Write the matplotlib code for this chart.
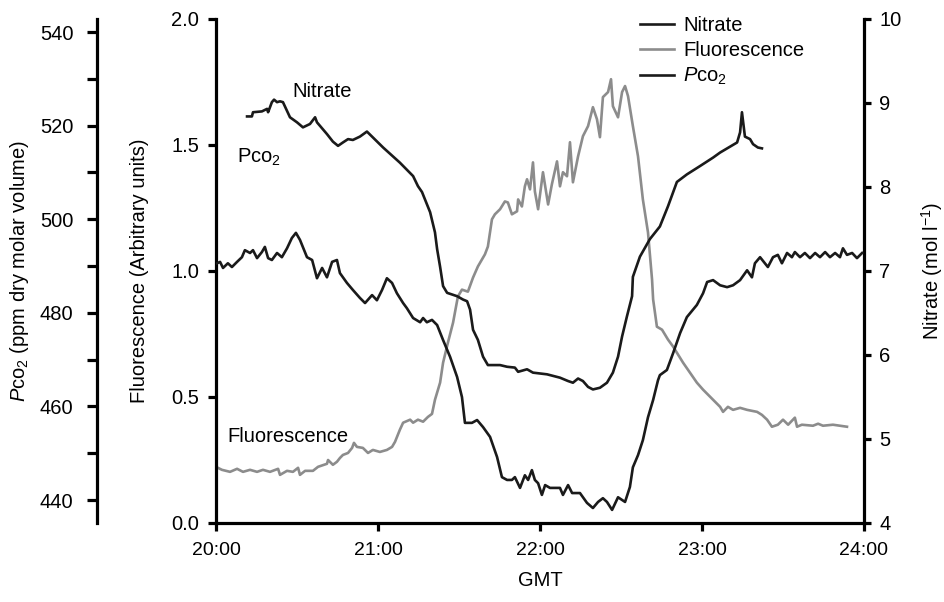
import matplotlib
matplotlib.use('Agg')
import matplotlib.pyplot as plt
import numpy as np

plt.rcParams['font.family'] = ['Liberation Sans', 'DejaVu Sans']
plt.rcParams['mathtext.fontset'] = 'custom'
plt.rcParams['mathtext.rm'] = 'Liberation Sans'
plt.rcParams['mathtext.it'] = 'Liberation Sans:italic'

# minutes after 20:00 GMT
nitrate_min = [11.5, 13.3, 13.7, 17.0, 18.9, 19.3, 20.7, 21.5, 22.6, 23.7, 24.8, 27.4, 30.0,
               32.2, 34.8, 36.7, 37.4, 41.1, 43.3, 45.2, 47.0, 48.9, 50.7, 53.3, 55.9, 61.9,
               68.1, 73.0, 74.8, 76.3, 79.3, 81.1, 81.9, 83.0, 84.1, 85.6, 89.3, 91.5, 93.0,
               94.1, 95.2, 97.0, 98.9, 100.7, 105.2, 107.8, 110.7, 111.9, 115.2, 117.4, 122.6,
               127.4, 130.4, 132.2, 134.1, 135.9, 137.8, 139.6, 142.2, 144.8, 147.0, 148.9,
               150.4, 152.2, 154.1, 154.4, 157.0, 160.7, 164.4, 167.4, 170.7, 174.4, 179.3,
               184.1, 186.7, 193.0, 194.1, 194.8, 195.9, 197.8, 198.9, 200.7, 202.2]
nitrate_val = [8.84, 8.84, 8.89, 8.90, 8.93, 8.89, 9.01, 9.04, 9.01, 9.02, 9.01, 8.83, 8.77,
               8.71, 8.75, 8.83, 8.77, 8.63, 8.54, 8.49, 8.53, 8.57, 8.56, 8.60, 8.66, 8.47,
               8.29, 8.13, 8.01, 7.94, 7.70, 7.46, 7.26, 7.05, 6.82, 6.74, 6.70, 6.66, 6.64,
               6.54, 6.30, 6.18, 5.98, 5.88, 5.88, 5.86, 5.85, 5.80, 5.83, 5.79, 5.77,
               5.73, 5.69, 5.67, 5.72, 5.69, 5.62, 5.59, 5.61, 5.67, 5.79, 5.98,
               6.22, 6.46, 6.70, 6.93, 7.17, 7.38, 7.53, 7.77, 8.06, 8.15, 8.25,
               8.35, 8.41, 8.53, 8.65, 8.89, 8.60, 8.57, 8.51, 8.47, 8.46]

fluor_min = [0.7, 2.2, 5.2, 7.8, 10.0, 12.6, 15.2, 17.4, 20.0, 23.0, 23.7, 26.3, 28.5, 30.4,
             31.1, 33.0, 35.9, 37.8, 41.1, 41.5, 43.3, 44.8, 45.9, 47.0, 48.9, 50.4, 51.1,
             52.2, 54.4, 56.3, 58.1, 60.7, 63.3, 65.2, 66.3, 68.1, 69.3, 71.9, 73.0, 74.8,
             76.7, 78.5, 80.0, 81.1, 83.0, 84.1, 85.9, 87.8, 89.6, 91.1, 93.3, 95.2, 97.0,
             99.6, 100.7, 102.2, 103.3, 105.2, 107.0, 108.1, 109.6, 111.5, 111.9, 113.3,
             114.4, 115.2, 116.3, 117.4, 118.1, 119.3, 121.1, 123.0, 124.4, 126.3, 127.4,
             128.5, 130.0, 131.1, 132.2, 134.1, 135.9, 137.8, 139.6, 141.1, 142.2, 143.3,
             145.2, 146.3, 147.0, 148.9, 150.4, 151.5, 152.6, 154.4, 156.3, 158.1, 160.0,
             161.5, 161.9, 163.3, 165.2, 167.4, 169.3, 173.0, 175.6, 178.1, 180.4, 183.0,
             184.1, 186.7, 187.8, 189.6, 191.5, 194.1, 196.7, 200.4, 202.2, 204.1, 205.9,
             208.1, 210.0, 211.9, 214.4, 215.2, 217.0, 221.1, 223.0, 224.8, 228.5, 231.1,
             233.7]
fluor_val = [0.219, 0.211, 0.203, 0.215, 0.203, 0.211, 0.203, 0.211, 0.203, 0.215, 0.191,
             0.207, 0.203, 0.219, 0.191, 0.207, 0.207, 0.223, 0.235, 0.250, 0.231, 0.243,
             0.258, 0.270, 0.278, 0.298, 0.318, 0.302, 0.298, 0.278, 0.290, 0.282, 0.290,
             0.302, 0.322, 0.370, 0.398, 0.410, 0.398, 0.410, 0.402, 0.421, 0.433, 0.489,
             0.557, 0.636, 0.716, 0.795, 0.899, 0.926, 0.918, 0.974, 1.018, 1.066, 1.097,
             1.205, 1.225, 1.245, 1.276, 1.272, 1.225, 1.237, 1.284, 1.256, 1.336, 1.364,
             1.324, 1.431, 1.316, 1.245, 1.392, 1.264, 1.344, 1.435, 1.336, 1.392, 1.376,
             1.511, 1.352, 1.455, 1.535, 1.575, 1.650, 1.602, 1.531, 1.690, 1.710, 1.761,
             1.654, 1.610, 1.710, 1.734, 1.694, 1.575, 1.455, 1.284, 1.153, 0.966, 0.887,
             0.779, 0.767, 0.728, 0.700, 0.636, 0.596, 0.557, 0.529, 0.501, 0.489, 0.461,
             0.441, 0.461, 0.449, 0.457, 0.449, 0.441, 0.429, 0.410, 0.382, 0.390, 0.410,
             0.390, 0.418, 0.382, 0.390, 0.386, 0.394, 0.386, 0.390, 0.386, 0.382]

pco2_min = [0.4, 1.5, 2.6, 4.4, 5.9, 7.8, 9.6, 10.7, 12.6, 13.7, 15.2, 17.0, 18.1, 19.3, 20.7,
            22.6, 24.4, 26.3, 28.1, 29.6, 31.1, 33.7, 35.6, 37.4, 39.3, 41.1, 43.0, 44.8,
            45.9, 48.5, 50.7, 53.3, 55.2, 57.8, 59.6, 61.5, 63.3, 65.2, 67.0, 69.3, 70.7,
            73.0, 75.6, 76.7, 78.1, 80.0, 81.9, 84.1, 86.7, 89.3, 91.1, 92.2, 94.8, 96.7,
            98.9, 101.5, 104.1, 105.9, 107.8, 109.6, 110.7, 112.6, 114.4, 115.6, 117.0,
            118.1, 119.3, 120.7, 121.9, 123.7, 127.4, 128.5, 130.4, 131.9, 134.8, 137.4,
            139.6, 141.5, 143.3, 144.8, 146.7, 148.9, 151.5, 153.3, 154.4, 156.3, 158.1,
            160.0, 161.9, 163.7, 164.4, 167.0, 169.3, 171.9, 174.4, 178.1, 180.4, 181.9,
            184.1, 186.7, 189.3, 191.5, 194.1, 196.7, 198.5, 199.6, 201.5, 203.3, 204.4,
            206.3, 208.1, 209.6, 211.5, 213.3, 214.4, 216.3, 218.1, 220.0, 221.9, 223.7,
            225.6, 227.4, 229.3, 231.1, 232.2, 233.7, 235.6, 237.4, 239.3]
pco2_val = [490.6, 490.9, 489.6, 490.6, 489.8, 490.9, 491.9, 493.4, 492.8, 493.4, 491.7,
            493.0, 494.1, 491.7, 491.3, 492.8, 491.9, 493.8, 496.0, 497.1, 495.6, 491.9,
            491.3, 487.4, 489.6, 487.6, 490.9, 491.3, 488.5, 486.4, 484.9, 483.2, 482.1,
            483.8, 482.7, 484.9, 487.4, 486.4, 484.2, 482.1, 481.0, 478.9, 478.0, 478.9,
            478.0, 478.5, 477.4, 474.2, 470.6, 466.3, 462.0, 456.5, 456.5, 457.1, 455.6,
            453.5, 449.2, 444.9, 444.3, 444.3, 444.9, 442.6, 445.3, 444.3, 446.4, 444.3,
            443.6, 441.1, 443.2, 442.6, 442.6, 441.1, 443.2, 441.5, 441.5, 439.4, 438.3,
            439.6, 440.4, 439.6, 437.9, 440.6, 439.6, 442.8, 447.0, 449.6, 452.8, 457.7,
            461.4, 465.6, 466.7, 467.8, 471.4, 475.7, 479.1, 481.7, 484.2, 486.6, 487.0,
            485.9, 485.5, 485.9, 487.0, 489.1, 487.6, 490.6, 491.9, 490.6, 489.8, 491.9,
            492.4, 490.6, 492.8, 491.9, 493.0, 491.9, 492.8, 491.7, 492.8, 491.9, 493.0,
            491.9, 492.8, 491.9, 493.8, 492.4, 492.8, 491.7, 492.8]

hour_ticks = [20, 21, 22, 23, 24]
hour_labels = ['20:00', '21:00', '22:00', '23:00', '24:00']

black = '#1a1a1a'
gray = '#8c8c8c'
fs = 14.5

fig = plt.figure(figsize=(9.45, 6.02), dpi=100)
ax = fig.add_axes([216 / 945, 79 / 602, 648 / 945, 504 / 602])
ax2 = ax.twinx()
ax3 = ax.twinx()

t_n = 20 + np.array(nitrate_min) / 60
t_f = 20 + np.array(fluor_min) / 60
t_p = 20 + np.array(pco2_min) / 60

lf, = ax.plot(t_f, fluor_val, color=gray, lw=1.9, label='Fluorescence')
ln, = ax2.plot(t_n, nitrate_val, color=black, lw=1.9, label='Nitrate')
lp, = ax3.plot(t_p, pco2_val, color=black, lw=1.9, label=r'$P$co$_2$')

ax.set_xlim(20, 24)
ax.set_ylim(0, 2.0)
ax2.set_ylim(4, 10)
ax3.set_ylim(435.1, 542.8)

# spines
for a in (ax, ax2, ax3):
    for s in a.spines.values():
        s.set_visible(False)
        s.set_linewidth(2.3)
ax.spines['left'].set_visible(True)
ax.spines['bottom'].set_visible(True)
ax2.spines['right'].set_visible(True)
ax3.spines['left'].set_visible(True)
ax3.spines['left'].set_position(('outward', 119 * 0.72))
ax3.yaxis.set_ticks_position('left')
ax3.yaxis.set_label_position('left')

ax.set_xticks(hour_ticks)
ax.set_xticklabels(hour_labels)
ax.set_yticks([0, 0.5, 1.0, 1.5, 2.0])
ax.set_yticklabels(['0.0', '0.5', '1.0', '1.5', '2.0'])
ax2.set_yticks([4, 5, 6, 7, 8, 9, 10])
ax3.set_yticks([440, 460, 480, 500, 520, 540])
ax3.set_yticks([450, 470, 490, 510, 530], minor=True)

ax.tick_params(axis='x', direction='out', length=6, width=2.3, labelsize=14, pad=8)
ax.tick_params(axis='y', direction='out', length=6, width=2.3, labelsize=fs, pad=6)
ax2.tick_params(axis='y', direction='out', length=5, width=2.3, labelsize=fs, pad=6)
ax3.tick_params(axis='y', which='both', direction='out', length=7, width=2.3,
                labelsize=fs, pad=10)

ax.set_xlabel('GMT', fontsize=fs)
ax.xaxis.set_label_coords(0.5, -0.095)
ax.set_ylabel('Fluorescence (Arbitrary units)', fontsize=fs)
ax.yaxis.set_label_coords(-0.103, 0.5)
ax2.set_ylabel(r'Nitrate (mol l$^{-1}$)', fontsize=fs)
ax2.yaxis.set_label_coords(1.085, 0.5)
ax3.set_ylabel(r'$P$co$_2$ (ppm dry molar volume)', fontsize=fs)
ax3.yaxis.set_label_coords(-0.285, 0.5)

# in-plot labels
ax.text(20.47, 1.714, 'Nitrate', fontsize=fs, va='center', ha='left')
ax.text(20.13, 1.451, r'Pco$_2$', fontsize=fs, va='center', ha='left')
ax.text(20.07, 0.342, 'Fluorescence', fontsize=fs, va='center', ha='left')

fig.legend(handles=[ln, lf, lp], loc='upper left', bbox_to_anchor=(640 / 945, 1 - 16 / 602),
           frameon=False, fontsize=fs, handlelength=1.7, handletextpad=0.45,
           labelspacing=0.3, borderpad=0, borderaxespad=0)

fig.savefig('out.png', dpi=100)
